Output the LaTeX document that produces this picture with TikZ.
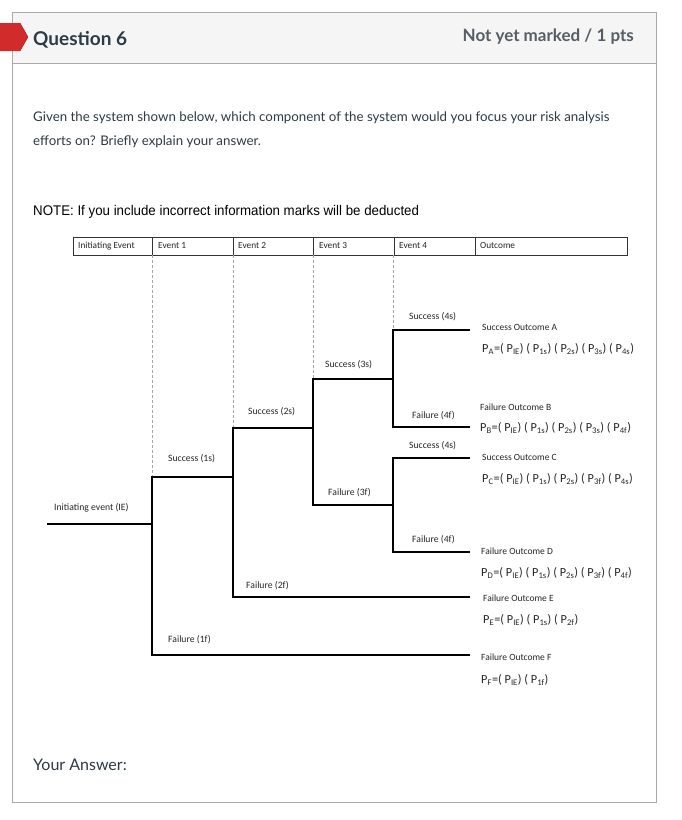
\documentclass[tikz,border=0pt]{standalone}
\usepackage{fontspec}
\setmainfont{Lato}
\newfontfamily\diagfont{Carlito}
\newfontfamily\notefont{Liberation Sans}
\newcommand\Psub[1]{P\textsubscript{#1}}
\definecolor{framec}{HTML}{AAAAAA}
\definecolor{headc}{HTML}{F5F5F5}
\definecolor{textc}{HTML}{2D3B45}
\definecolor{markc}{HTML}{555E66}
\definecolor{tagred}{HTML}{D22B2B}
\definecolor{tagdark}{HTML}{A51E1E}
\definecolor{dashc}{HTML}{A8A8A8}
\begin{document}
\begin{tikzpicture}[x=1pt,y=-1pt,
  tree/.style={line width=1.1pt,black},
  dashv/.style={dashc,line width=0.8pt,dash pattern=on 3pt off 2pt},
  lbl/.style={font=\diagfont\fontsize{9.7}{11}\selectfont,text=black!85,anchor=west,inner sep=0pt},
  hdr/.style={font=\diagfont\fontsize{9.3}{11}\selectfont,text=black!85,anchor=west,inner sep=0pt},
  otitle/.style={font=\diagfont\fontsize{9.5}{11}\selectfont,text=black!85,anchor=west,inner sep=0pt},
  formula/.style={font=\diagfont\fontsize{12.3}{14}\selectfont,text=black!85,anchor=west,inner sep=0pt},
  qtext/.style={font=\fontsize{13.3}{16}\selectfont,text=textc,anchor=base west,inner sep=0pt}]
\useasboundingbox (0,0) rectangle (681,820);
\fill[white] (0,0) rectangle (681,820);
% frame
\fill[white] (12,12) rectangle (656,802);
\fill[headc] (12,12) rectangle (656,63);
\draw[framec,line width=0.9pt] (12,12) rectangle (656,802);
\draw[framec,line width=0.9pt] (12,63) -- (656,63);
% tag
\fill[tagred] (0,23) -- (20,23) -- (28,37) -- (20,51) -- (0,51) -- cycle;
\draw[tagdark,line width=0.4pt] (20,23) -- (28,37) -- (20,51);
% header text
\node[font=\bfseries\fontsize{19}{22}\selectfont,text=textc,anchor=base west,inner sep=0pt] (title) at (33,45) {Question 6};
\node[font=\bfseries\fontsize{17}{20}\selectfont,text=markc,anchor=base east,inner sep=0pt] (marks) at (634,41) {Not yet marked / 1 pts};
% question
\node[qtext] (q1) at (33,121) {Given the system shown below, which component of the system would you focus your risk analysis};
\node[qtext] (q2) at (33,145) {efforts on? Briefly explain your answer.};
\node[font=\notefont\fontsize{14}{16}\selectfont,text=black,anchor=base west,inner sep=0pt] (note) at (33,215) {\scalebox{0.95}[1]{NOTE: If you include incorrect information marks will be deducted}};
% table header
\draw[black!80,line width=0.8pt] (73,237) rectangle (627,255);
\foreach \xx in {152,233,313,394,475} \draw[black!80,line width=0.8pt] (\xx,237) -- (\xx,255);
\node[hdr] (h0) at (78,246) {Initiating Event};
\node[hdr] (h1) at (158,246) {Event 1};
\node[hdr] (h2) at (238,246) {Event 2};
\node[hdr] (h3) at (319,246) {Event 3};
\node[hdr] (h4) at (399,246) {Event 4};
\node[hdr] (h5) at (480,246) {Outcome};
% coordinates
\coordinate (ie) at (47,524);
\coordinate (b1) at (152,524);
\coordinate (b1t) at (152,477);
\coordinate (b1b) at (152,655);
\coordinate (b2t) at (233,477);
\coordinate (b2u) at (233,428);
\coordinate (b2b) at (233,597);
\coordinate (b3l) at (313,428);
\coordinate (b3u) at (313,379);
\coordinate (b3b) at (313,505);
\coordinate (b4a) at (393,379);
\coordinate (b4at) at (393,330);
\coordinate (b4ab) at (393,427);
\coordinate (b4b) at (393,505);
\coordinate (b4bt) at (393,458);
\coordinate (b4bb) at (393,552);
\coordinate (eA) at (470,330);
\coordinate (eB) at (470,427);
\coordinate (eC) at (470,458);
\coordinate (eD) at (470,552);
\coordinate (eE) at (470,597);
\coordinate (eF) at (470,655);
% dashed guides
\coordinate (d1) at (152,255);
\coordinate (d2) at (233,255);
\coordinate (d3) at (313,255);
\coordinate (d4) at (393,255);
\draw[dashv] (d1) -- (b1t);
\draw[dashv] (d2) -- (b2u);
\draw[dashv] (d3) -- (b3u);
\draw[dashv] (d4) -- (b4at);
% tree
\draw[tree] (ie) -- (b1);
\draw[tree] (b2t) -- (b1t) -- (b1b) -- (eF);
\draw[tree] (b3l) -- (b2u) -- (b2b) -- (eE);
\draw[tree] (b4a) -- (b3u) -- (b3b) -- (b4b);
\draw[tree] (eA) -- (b4at) -- (b4ab) -- (eB);
\draw[tree] (eC) -- (b4bt) -- (b4bb) -- (eD);
% branch labels
\node[lbl] (lie) at (54,508) {Initiating event (IE)};
\node[lbl] (l1s) at (168,459) {Success (1s)};
\node[lbl] (l1f) at (168,640) {Failure (1f)};
\node[lbl] (l2s) at (248,412) {Success (2s)};
\node[lbl] (l2f) at (246,586) {Failure (2f)};
\node[lbl] (l3s) at (325,365) {Success (3s)};
\node[lbl] (l3f) at (328,493) {Failure (3f)};
\node[lbl] (l4sa) at (409,317) {Success (4s)};
\node[lbl] (l4fa) at (412,416) {Failure (4f)};
\node[lbl] (l4sb) at (409,446) {Success (4s)};
\node[lbl] (l4fb) at (412,540) {Failure (4f)};
% outcomes
\node[otitle] (oA) at (482,327) {Success Outcome A};
\node[formula] (fA) at (482,349) {\Psub{A}=( \Psub{IE}) ( \Psub{1s}) ( \Psub{2s}) ( \Psub{3s}) ( \Psub{4s})};
\node[otitle] (oB) at (480,407) {Failure Outcome B};
\node[formula] (fB) at (480,428) {\Psub{B}=( \Psub{IE}) ( \Psub{1s}) ( \Psub{2s}) ( \Psub{3s}) ( \Psub{4f})};
\node[otitle] (oC) at (482,457) {Success Outcome C};
\node[formula] (fC) at (482,479) {\Psub{C}=( \Psub{IE}) ( \Psub{1s}) ( \Psub{2s}) ( \Psub{3f}) ( \Psub{4s})};
\node[otitle] (oD) at (481,551) {Failure Outcome D};
\node[formula] (fD) at (481,573) {\Psub{D}=( \Psub{IE}) ( \Psub{1s}) ( \Psub{2s}) ( \Psub{3f}) ( \Psub{4f})};
\node[otitle] (oE) at (483,598) {Failure Outcome E};
\node[formula] (fE) at (483,620) {\Psub{E}=( \Psub{IE}) ( \Psub{1s}) ( \Psub{2f})};
\node[otitle] (oF) at (481,657) {Failure Outcome F};
\node[formula] (fF) at (481,680) {\Psub{F}=( \Psub{IE}) ( \Psub{1f})};
% answer
\node[font=\fontsize{16}{19}\selectfont,text=textc,anchor=base west,inner sep=0pt] (ans) at (33,770) {Your Answer:};
\end{tikzpicture}
\end{document}
